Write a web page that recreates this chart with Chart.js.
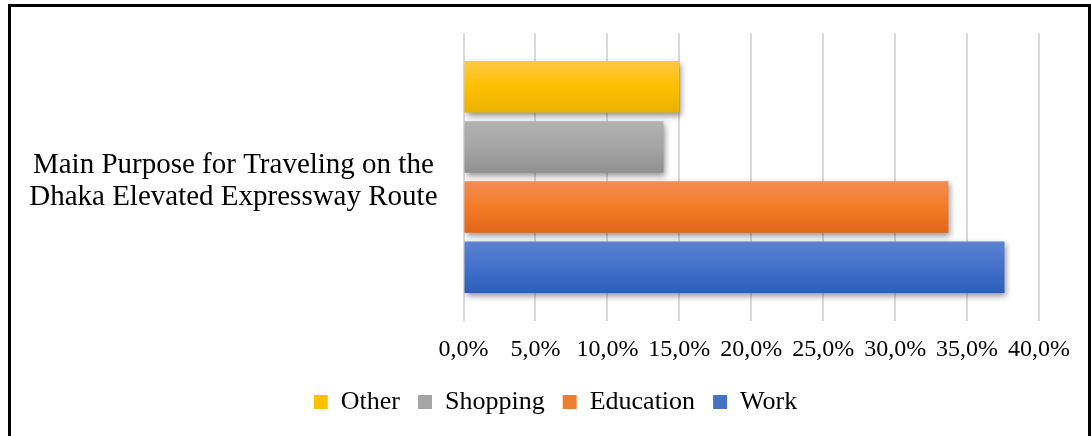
<!DOCTYPE html>
<html>
<head>
<meta charset="utf-8">
<script src="https://cdn.jsdelivr.net/npm/chart.js@4"></script>
<style>
  html, body { margin: 0; padding: 0; background: #fff; }
  #wrap { position: relative; width: 1091px; height: 436px; overflow: hidden; }
  #c { position: absolute; left: 0; top: 0; }
  #frame { position: absolute; left: 8px; top: 4px; width: 1077px; height: 460px; border: 3px solid #000; pointer-events: none; }
</style>
</head>
<body>
<div id="wrap">
  <canvas id="c" width="1091" height="436"></canvas>
  <div id="frame"></div>
</div>
<script>
// ---- data ----
const categories = [["Main Purpose for Traveling on the", "Dhaka Elevated Expressway Route"]];
const seriesNames = ["Other", "Shopping", "Education", "Work"];
const otherValues = [15.0];
const shoppingValues = [13.9];
const educationValues = [33.7];
const workValues = [37.6];
const tickValues = [0, 5, 10, 15, 20, 25, 30, 35, 40];

// ---- styles ----
const baseColors = ["#FFC000", "#A5A5A5", "#ED7D31", "#4472C4"];
const gradStops = [
  ["#FFC846", "#FFC000", "#E9B100"],
  ["#B3B3B3", "#A5A5A5", "#909090"],
  ["#F28D55", "#F47B25", "#E3661A"],
  ["#5A82CF", "#4270CB", "#2C5EBA"]
];

function makeBg(idx) {
  return function (c) {
    const el = c.element;
    if (!el || el.y == null || !isFinite(el.height) || !el.height) return baseColors[idx];
    const top = el.y - el.height / 2, bot = el.y + el.height / 2;
    const g = c.chart.ctx.createLinearGradient(0, top, 0, bot);
    g.addColorStop(0, gradStops[idx][0]);
    g.addColorStop(0.5, gradStops[idx][1]);
    g.addColorStop(1, gradStops[idx][2]);
    return g;
  };
}

const allValues = [otherValues, shoppingValues, educationValues, workValues];
const datasets = seriesNames.map((n, i) => ({
  label: n,
  data: allValues[i],
  backgroundColor: makeBg(i),
  borderWidth: 0,
  yAxisID: 'y',
  categoryPercentage: 0.835,
  barPercentage: 0.855
}));

const shadowPlugin = {
  id: 'barShadow',
  beforeDatasetsDraw(chart) {
    const ctx = chart.ctx;
    ctx.save();
    ctx.shadowColor = 'rgba(0,0,0,0.42)';
    ctx.shadowBlur = 6;
    ctx.shadowOffsetX = 2;
    ctx.shadowOffsetY = 3;
  },
  afterDatasetsDraw(chart) {
    chart.ctx.restore();
  }
};

const fontFamily = "'Liberation Serif', 'Times New Roman', serif";
const PLOT_LEFT = 463.5;
const PAD_LEFT = 20;

const chart = new Chart(document.getElementById('c'), {
  type: 'bar',
  data: { labels: categories, datasets: datasets },
  plugins: [shadowPlugin],
  options: {
    indexAxis: 'y',
    responsive: false,
    devicePixelRatio: 1,
    animation: false,
    layout: { padding: { top: 33, right: 0, bottom: 11, left: PAD_LEFT } },
    scales: {
      x: {
        min: 0, max: 40,
        afterBuildTicks(scale) { scale.ticks = tickValues.map(v => ({ value: v })); },
        afterFit(scale) { scale.height = 50; },
        grid: { color: '#d9d9d9', lineWidth: 2, drawTicks: false },
        border: { display: false },
        ticks: {
          padding: 14,
          color: '#000',
          font: { family: fontFamily, size: 24 },
          callback: v => v.toFixed(1).replace('.', ',') + '%'
        }
      },
      y: {
        position: 'left',
        afterFit(scale) {
          scale.width = PLOT_LEFT - PAD_LEFT;
          scale.paddingTop = 0;
          scale.paddingBottom = 0;
        },
        grid: { display: false, drawTicks: false },
        border: { display: false },
        ticks: {
          crossAlign: 'center',
          padding: 26,
          labelOffset: 4,
          color: '#000',
          font: { family: fontFamily, size: 29, lineHeight: 1.1 }
        }
      },
      yRight: {
        type: 'category',
        position: 'right',
        labels: [''],
        afterFit(scale) {
          scale.width = 52;
          scale.paddingTop = 0;
          scale.paddingBottom = 0;
        },
        grid: { display: false, drawTicks: false },
        border: { display: false },
        ticks: { display: false }
      }
    },
    plugins: {
      tooltip: { enabled: false },
      legend: {
        position: 'bottom',
        labels: {
          boxWidth: 14,
          boxHeight: 14,
          padding: 18,
          color: '#000',
          font: { family: fontFamily, size: 26 },
          generateLabels(ch) {
            return ch.data.datasets.map((d, i) => ({
              text: d.label,
              fillStyle: baseColors[i],
              strokeStyle: baseColors[i],
              lineWidth: 0,
              hidden: false,
              datasetIndex: i
            }));
          }
        }
      }
    }
  }
});
chart.update('none');
</script>
</body>
</html>
